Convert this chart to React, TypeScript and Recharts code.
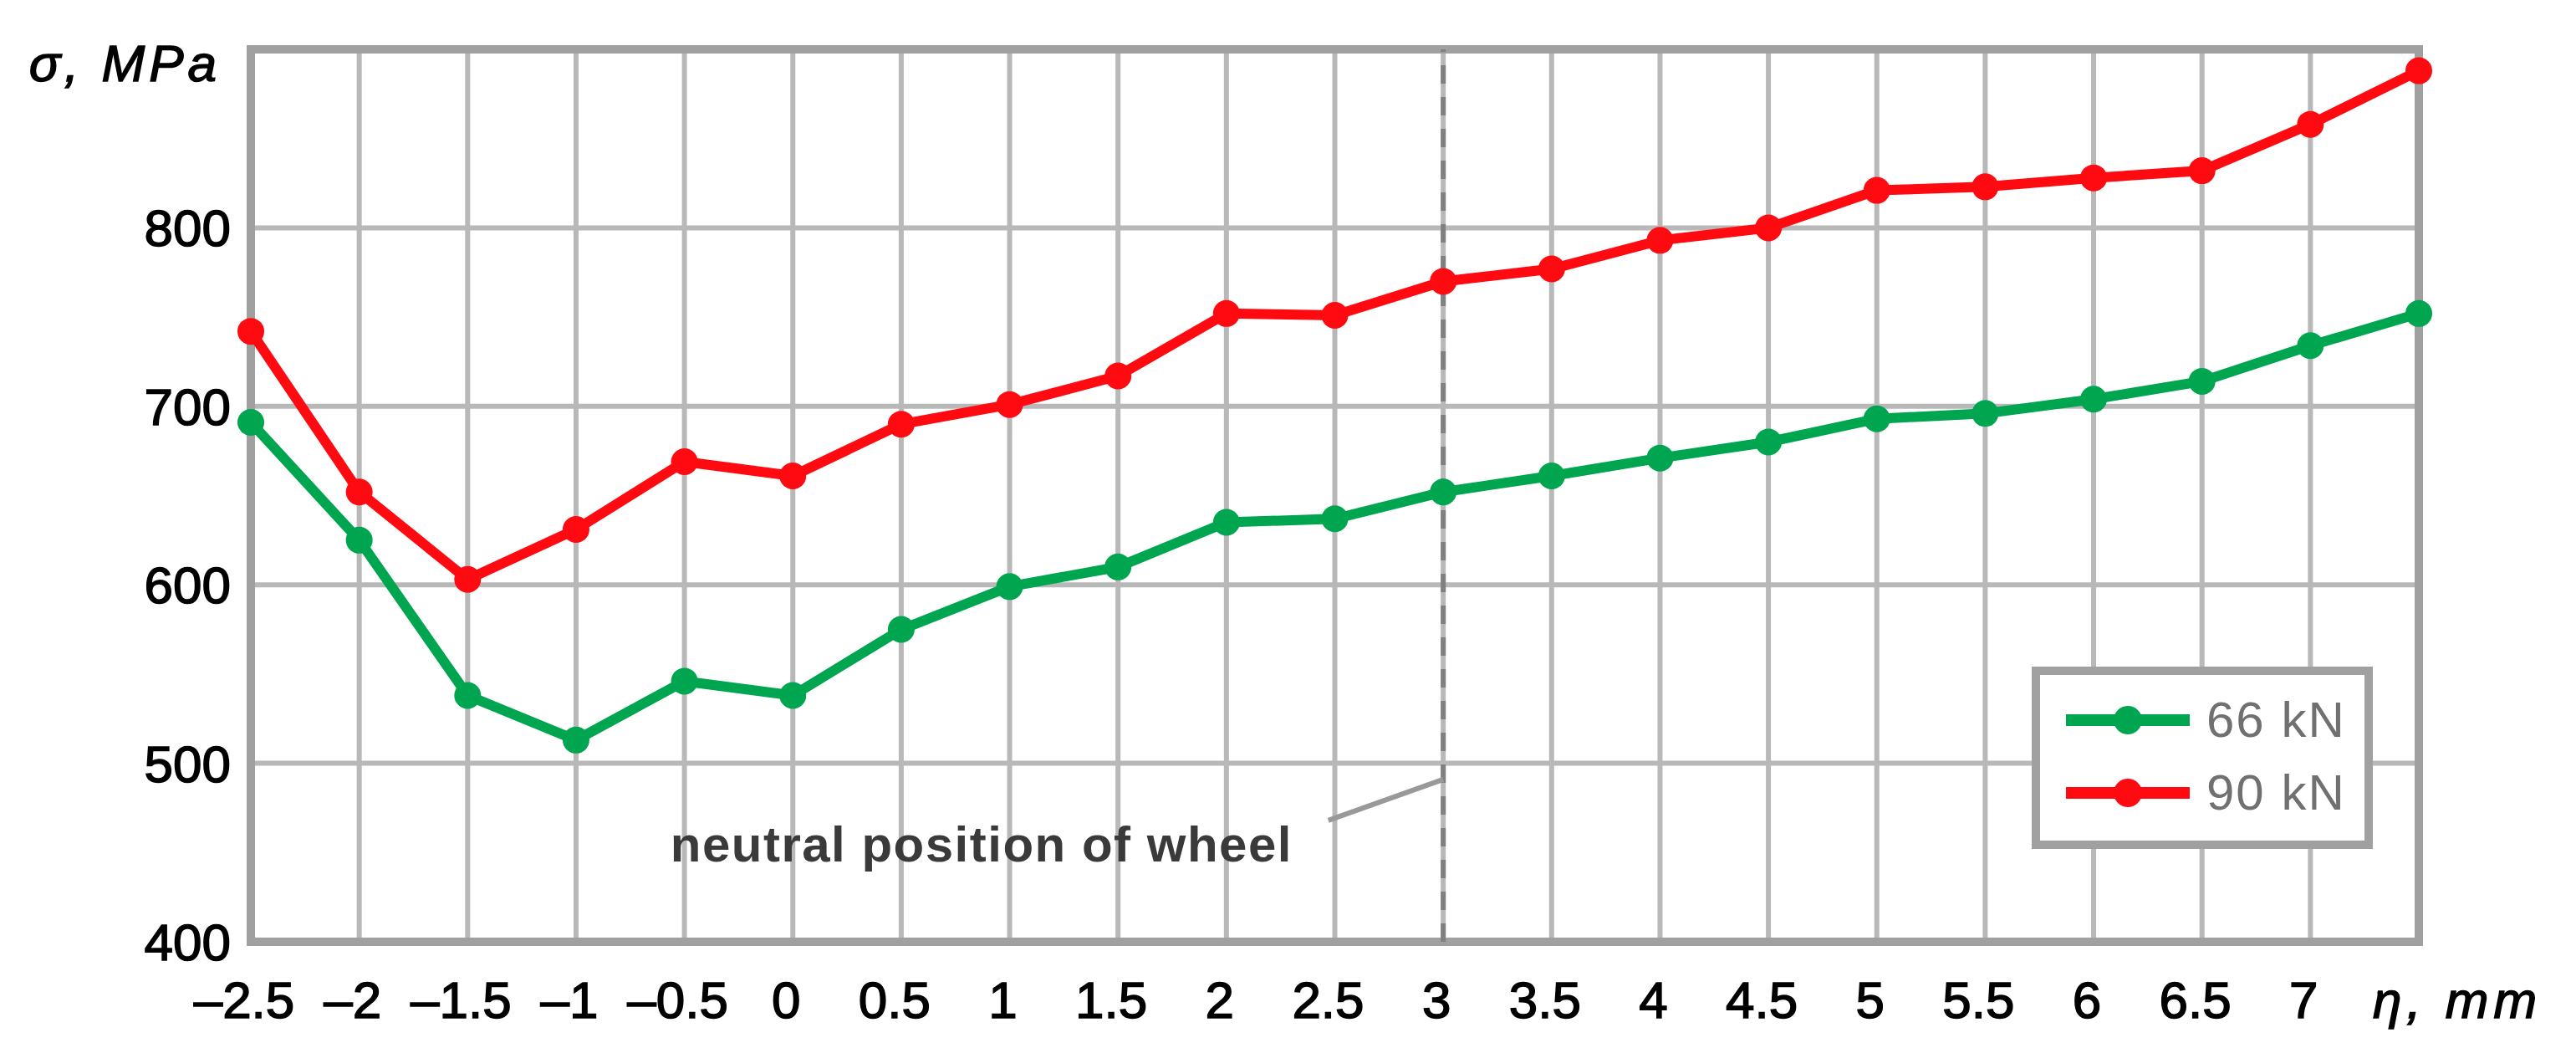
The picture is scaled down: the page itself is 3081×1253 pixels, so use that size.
import React from 'react';
import {
  LineChart,
  Line,
  XAxis,
  YAxis,
  CartesianGrid,
  ReferenceLine,
  ReferenceArea,
  ReferenceDot,
} from 'recharts';

// wheel displacement, mm
const eta = [-2.5, -2, -1.5, -1, -0.5, 0, 0.5, 1, 1.5, 2, 2.5, 3, 3.5, 4, 4.5, 5, 5.5, 6, 6.5, 7, 7.5];
// stress, MPa
const sigma66 = [691, 625, 538, 513, 546, 538, 575, 599, 610, 635, 637, 652, 661, 671, 680, 693, 696, 704, 714, 734, 752];
const sigma90 = [742, 652, 603, 631, 669, 661, 690, 701, 717, 752, 751, 770, 777, 793, 800, 821, 823, 828, 832, 858, 888];

const xTickLabels = [
  '–2.5', '–2', '–1.5', '–1', '–0.5', '0', '0.5', '1', '1.5', '2', '2.5',
  '3', '3.5', '4', '4.5', '5', '5.5', '6', '6.5', '7', 'η, mm',
];
const yTicks = [400, 500, 600, 700, 800, 900];
const yTickLabels = ['400', '500', '600', '700', '800', 'σ, MPa'];

const series = [
  { key: 's66', name: '66 kN', color: '#00a64f' },
  { key: 's90', name: '90 kN', color: '#ff0a10' },
];

const data = eta.map((x, i) => ({ eta: x, s66: sigma66[i], s90: sigma90[i] }));

const FONT = '"Liberation Sans", Arial, sans-serif';

const XTick = ({ x, y, payload }: any) => {
  const i = eta.indexOf(payload.value);
  const label = xTickLabels[i];
  if (i === eta.length - 1) {
    return (
      <text x={x - 55} y={y} dy="0.71em" textAnchor="start" fontFamily={FONT} fontSize={62} fontStyle="italic"
        fill="#000" stroke="#000" strokeWidth={1.5} letterSpacing={6}>
        {label}
      </text>
    );
  }
  return (
    <text x={x - 8} y={y} dy="0.71em" textAnchor="middle" fontFamily={FONT} fontSize={62}
      fill="#000" stroke="#000" strokeWidth={1.5}>
      {label}
    </text>
  );
};

const YTick = ({ x, y, payload }: any) => {
  const i = yTicks.indexOf(payload.value);
  const label = yTickLabels[i];
  if (payload.value === 900) {
    return (
      <text x={x - 12} y={y + 16} dy="0.355em" textAnchor="end" fontFamily={FONT} fontSize={62} fontStyle="italic"
        fill="#000" stroke="#000" strokeWidth={1.5} letterSpacing={5}>
        {label}
      </text>
    );
  }
  return (
    <text x={x} y={y} dy="0.355em" textAnchor="end" fontFamily={FONT} fontSize={62}
      fill="#000" stroke="#000" strokeWidth={1.5}>
      {label}
    </text>
  );
};

const LegendBox = () => (
  <div
    style={{
      position: 'absolute',
      left: 2430,
      top: 797,
      width: 408,
      height: 218,
      boxSizing: 'border-box',
      border: '10px solid #a0a0a0',
      background: '#fff',
    }}
  >
    {series.map((s, i) => (
      <div key={s.key} style={{ position: 'absolute', left: 31, top: 29 + i * 87, height: 50, width: 360 }}>
        <svg width={150} height={50} style={{ position: 'absolute', left: 0, top: 0 }}>
          <line x1={0} y1={25} x2={148} y2={25} stroke={s.color} strokeWidth={14} />
          <circle cx={74} cy={25} r={17} fill={s.color} />
        </svg>
        <span
          style={{
            position: 'absolute',
            left: 168,
            top: 0,
            lineHeight: '50px',
            fontFamily: FONT,
            fontSize: 60,
            color: '#707070',
            whiteSpace: 'nowrap',
            letterSpacing: 2,
          }}
        >
          {s.name}
        </span>
      </div>
    ))}
  </div>
);

export default function App() {
  return (
    <div style={{ position: 'absolute', left: 0, top: 0, width: 3081, height: 1253, background: '#fff' }}>
      <LineChart
        width={3081}
        height={1253}
        data={data}
        margin={{ top: 59, right: 188, bottom: 27, left: 100 }}
      >
        <CartesianGrid stroke="#b8b8b8" strokeWidth={6} />
        <XAxis
          dataKey="eta"
          type="number"
          domain={[-2.5, 7.5]}
          ticks={eta}
          interval={0}
          height={100}
          tickLine={false}
          axisLine={false}
          tickMargin={41}
          tick={<XTick />}
        />
        <YAxis
          type="number"
          domain={[400, 900]}
          ticks={yTicks}
          interval={0}
          width={200}
          tickLine={false}
          axisLine={false}
          tickMargin={18}
          tick={<YTick />}
        />
        <ReferenceArea
          x1={-2.5}
          x2={7.5}
          y1={400}
          y2={900}
          fill="none"
          fillOpacity={0}
          stroke="#a0a0a0"
          strokeWidth={10}
          ifOverflow="visible"
        />
        <ReferenceLine x={3} stroke="#808080" strokeWidth={6} strokeDasharray="22 16" />
        <ReferenceLine
          segment={[
            { x: 2.47, y: 468 },
            { x: 3, y: 491 },
          ]}
          stroke="#999"
          strokeWidth={6}
          ifOverflow="visible"
        />
        <ReferenceDot
          x={0.87}
          y={455}
          r={0}
          fill="none"
          stroke="none"
          label={{
            value: 'neutral position of wheel',
            position: 'center',
            fontFamily: FONT,
            fontSize: 60,
            fontWeight: 'bold',
            letterSpacing: 1.5,
            fill: '#3a3a3a',
          }}
        />
        {series.map((s) => (
          <Line
            key={s.key}
            type="linear"
            dataKey={s.key}
            name={s.name}
            stroke={s.color}
            strokeWidth={12}
            dot={{ r: 16, fill: s.color, stroke: s.color, strokeWidth: 0 }}
            isAnimationActive={false}
          />
        ))}
      </LineChart>
      <LegendBox />
    </div>
  );
}
